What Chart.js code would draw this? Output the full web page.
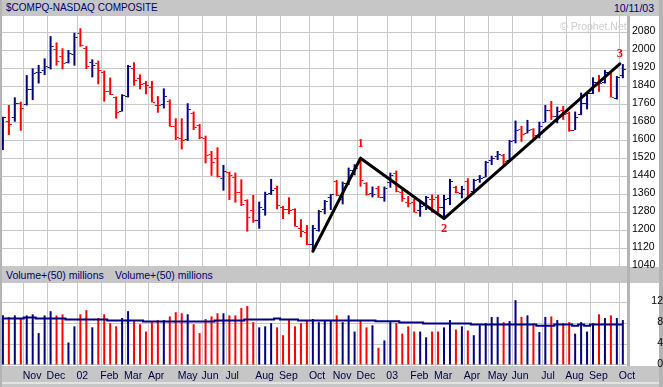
<!DOCTYPE html>
<html>
<head>
<meta charset="utf-8">
<script src="https://cdn.jsdelivr.net/npm/chart.js@4.4.0/dist/chart.umd.min.js"></script>
<style>
  html, body { margin: 0; padding: 0; background: #fff; }
  #wrap { position: relative; width: 663px; height: 387px; overflow: hidden; background: #fff;
          font-family: "Liberation Sans", Arial, sans-serif; }
  .band { position: absolute; background: #c6c6c6; }
  .txt { position: absolute; white-space: nowrap; color: #000070; font-size: 10.5px; line-height: 16px; }
  canvas { position: absolute; }
</style>
</head>
<body>
<div id="wrap">
  <div class="band" style="left:0;top:0;width:663px;height:16px"></div>
  <div class="band" style="left:0;top:267px;width:663px;height:16px"></div>
  <div class="band" style="left:0;top:366px;width:663px;height:16px"></div>
  <div class="band" style="left:0;top:382px;width:663px;height:2px;background:#e2e2e2"></div>
  <div class="band" style="left:0;top:384px;width:663px;height:3px"></div>
  <div class="band" style="left:0;top:0;width:2px;height:387px;background:#b4b4b4"></div>
  <div class="band" style="left:627px;top:16px;width:3px;height:350px;background:#b4b4b4"></div>
  <div class="band" style="left:659px;top:0;width:4px;height:387px;background:#b4b4b4"></div>

  <div class="txt" style="left:6px;top:0;font-size:10px">$COMPQ-NASDAQ COMPOSITE</div>
  <div class="txt" style="right:9px;top:0">10/11/03</div>
  <div class="txt" style="left:6px;top:267px">Volume+(50) millions</div>
  <div class="txt" style="left:115px;top:267px">Volume+(50) millions</div>

  <canvas id="price" width="661" height="256" style="left:2px;top:16px"></canvas>
  <canvas id="vol" width="661" height="101" style="left:2px;top:283px"></canvas>

  <div class="txt" style="left:560px;top:18px;color:#cdcdcd">© Prophet.Net</div>
</div>

<script>
// weekly bars, Oct 8 2001 .. Oct 6 2003
const opens = [1584,1686,1705,1768,1760,1827,1905,1913,1925,2004,1975,1948,1982,2075,2009,1948,1945,1905,1819,1791,
  1731,1799,1920,1879,1853,1839,1757,1762,1776,1665,1612,1605,1723,1668,1612,1538,1520,1432,1458,1439,
  1372,1335,1291,1247,1294,1365,1387,1303,1294,1294,1213,1192,1140,1202,1294,1347,1421,1338,1409,1469,
  1501,1409,1368,1390,1350,1417,1454,1372,1328,1328,1291,1313,1340,1350,1303,1343,1395,1365,1420,1375,
  1427,1439,1513,1531,1535,1513,1600,1650,1634,1650,1625,1683,1733,1708,1735,1720,1648,1716,1765,1810,
  1858,1860,1900,1790,1890];
const highs = [1705,1757,1791,1772,1890,1920,1935,1964,2063,2035,2009,2001,2078,2098,2019,1960,1954,1910,1879,1795,
  1805,1935,1947,1893,1864,1864,1797,1831,1782,1698,1698,1765,1728,1673,1621,1553,1569,1491,1461,1457,
  1427,1338,1358,1328,1372,1429,1399,1309,1347,1298,1250,1224,1224,1291,1335,1362,1424,1417,1479,1494,
  1521,1414,1395,1398,1395,1457,1466,1380,1353,1340,1335,1353,1360,1358,1358,1429,1398,1398,1432,1429,
  1446,1509,1532,1553,1540,1602,1688,1664,1691,1654,1683,1757,1775,1750,1753,1728,1728,1812,1815,1880,
  1890,1913,1905,1886,1939];
const lows = [1557,1624,1683,1643,1755,1779,1853,1890,1915,1932,1916,1942,1932,2016,1917,1880,1849,1772,1802,1697,
  1728,1791,1843,1827,1805,1769,1723,1742,1661,1602,1560,1598,1646,1606,1498,1443,1436,1377,1335,1324,
  1309,1195,1235,1208,1266,1358,1294,1251,1272,1217,1170,1135,1108,1195,1272,1291,1353,1316,1402,1445,
  1395,1355,1347,1345,1328,1390,1370,1328,1303,1280,1261,1291,1279,1279,1253,1313,1365,1343,1343,1372,
  1412,1436,1491,1513,1483,1510,1587,1594,1631,1602,1609,1680,1691,1676,1691,1639,1646,1712,1738,1806,
  1816,1853,1791,1782,1876];
const closes = [1703,1671,1768,1746,1828,1898,1903,1930,2021,1953,1945,1987,2059,2022,1930,1937,1911,1818,1805,1724,
  1802,1929,1868,1851,1845,1770,1756,1796,1663,1613,1600,1741,1661,1615,1535,1504,1440,1463,1448,1373,
  1319,1262,1247,1306,1362,1380,1315,1295,1291,1221,1199,1140,1210,1287,1331,1360,1359,1411,1468,1479,
  1422,1362,1363,1348,1387,1448,1376,1342,1321,1283,1310,1349,1338,1305,1340,1421,1370,1383,1358,1425,
  1434,1502,1520,1538,1510,1596,1646,1627,1645,1625,1663,1733,1708,1731,1715,1644,1702,1765,1810,1858,
  1855,1905,1792,1880,1915];
const volumes = [9.5,9.2,9.5,8.8,9.5,9.7,6.1,9.5,10.3,9.5,9.7,4.3,7.4,9.7,10.5,7.2,9.0,9.7,8.0,7.4,
  9.0,10.3,8.4,7.8,6.4,8.2,8.6,8.6,9.3,10.1,9.9,9.7,7.8,6.1,8.8,9.3,9.9,9.9,9.5,9.5,
  10.9,11.3,8.2,7.2,7.4,8.0,7.2,5.7,8.6,7.4,8.0,8.4,8.8,8.2,8.6,8.6,9.5,8.2,9.5,6.4,
  8.6,7.2,7.6,3.3,4.7,8.2,8.0,6.0,7.4,6.4,6.4,5.3,6.4,6.4,7.2,8.6,6.8,7.4,6.6,5.7,
  7.6,8.0,9.2,9.2,8.2,8.4,12.4,9.2,9.5,8.0,6.3,9.2,9.3,8.6,8.0,8.2,6.0,8.2,6.4,8.0,
  9.7,9.0,9.5,9.0,8.6];
// 50 week average of volume, as drawn
const volumeAvg = [8.89,8.89,8.89,8.89,9.08,9.08,8.89,8.89,8.89,8.89,8.89,8.70,8.70,8.70,8.70,8.70,8.70,8.70,8.50,8.50,
  8.50,8.50,8.50,8.50,8.31,8.31,8.31,8.31,8.31,8.31,8.31,8.31,8.31,8.31,8.31,8.31,8.50,8.50,8.50,8.50,
  8.50,8.70,8.70,8.70,8.70,8.70,8.89,8.70,8.70,8.70,8.53,8.53,8.53,8.53,8.53,8.53,8.53,8.53,8.53,8.53,
  8.53,8.53,8.53,8.37,8.37,8.37,8.37,8.12,8.12,8.12,8.12,7.92,7.92,7.92,7.92,7.92,7.92,7.92,7.92,7.73,
  7.73,7.73,7.73,7.73,7.73,7.73,7.73,7.73,7.73,7.73,7.53,7.53,7.53,7.76,7.76,7.76,7.53,7.76,7.53,7.76,
  7.76,7.76,7.76,7.76,7.76];

const monthStartBar = [4,8,13,17,21,25,30,34,38,43,47,52,56,60,65,69,73,78,82,86,91,95,99,104];
const monthLabels = ['Nov','Dec','02','Feb','Mar','Apr','May','Jun','Jul','Aug','Sep','Oct',
  'Nov','Dec','03','Feb','Mar','Apr','May','Jun','Jul','Aug','Sep','Oct'];
const priceTicks = [1040,1120,1200,1280,1360,1440,1520,1600,1680,1760,1840,1920,2000,2080];
const volumeTicks = [0,4,8,12];

// wave count drawn on the chart
const waveBars = [52, 60, 74, 103.5];
const waveValues = [1108, 1521, 1253, 1940];
const waveNames = ['', '1', '2', '3'];

const UP = '#000080', DOWN = '#ff0000', GRID = '#c8c8c8';
const FONT = '"Liberation Sans", Arial, sans-serif';
const barColors = closes.map((c, i) => (i === 0 || c >= closes[i - 1]) ? UP : DOWN);

const xAxis = extra => Object.assign({
  type: 'linear', min: -0.15, max: 104.7, offset: false,
  afterBuildTicks: ax => { ax.ticks = monthStartBar.map(b => ({ value: b - 0.5 })); },
  grid: { color: GRID, drawTicks: false, offset: false },
  border: { display: false }
}, extra);

const yAxis = (min, max, ticks, tickOpts) => ({
  position: 'right', min, max,
  afterBuildTicks: ax => { ax.ticks = ticks.map(v => ({ value: v })); },
  afterFit: ax => { ax.width = 36; ax.paddingTop = 0; ax.paddingBottom = 0; },
  ticks: Object.assign({
    font: { family: FONT, size: 10.5 }, color: '#000', labelOffset: -1,
    callback: v => String(v)
  }, tickOpts),
  grid: { color: GRID, drawTicks: false },
  border: { display: false }
});

const common = {
  animation: false, responsive: false, devicePixelRatio: 1, events: [],
  layout: { padding: 0 },
  plugins: { legend: { display: false }, tooltip: { enabled: false } }
};

// open / close ticks on the price bars
const ohlcTicks = {
  id: 'ohlcTicks',
  afterDatasetDraw(chart, args) {
    if (args.index !== 0) return;
    const { ctx, scales: { x, y } } = chart;
    ctx.save();
    opens.forEach((o, i) => {
      const px = x.getPixelForValue(i);
      ctx.fillStyle = barColors[i];
      ctx.fillRect(px - 3, Math.round(y.getPixelForValue(o)), 2, 1);
      ctx.fillRect(px + 1, Math.round(y.getPixelForValue(closes[i])), 2, 1);
    });
    ctx.restore();
  }
};

const waveLabels = {
  id: 'waveLabels',
  afterDatasetsDraw(chart) {
    const { ctx, scales: { x, y } } = chart;
    const gap = [0, 8, 4, 4];
    ctx.save();
    ctx.font = 'bold 12.5px "Liberation Serif", serif';
    ctx.fillStyle = '#ff0000';
    ctx.textAlign = 'center';
    waveNames.forEach((n, i) => {
      if (!n) return;
      const px = x.getPixelForValue(waveBars[i]);
      const py = y.getPixelForValue(waveValues[i]);
      const below = waveValues[i] < waveValues[i - 1];
      ctx.textBaseline = below ? 'top' : 'bottom';
      ctx.fillText(n, px, below ? py + gap[i] : py - gap[i]);
    });
    ctx.restore();
  }
};

new Chart(document.getElementById('price'), {
  type: 'bar',
  data: {
    datasets: [
      {
        type: 'bar', order: 1,
        data: highs.map((h, i) => ({ x: i, y: [lows[i], h] })),
        backgroundColor: barColors, barThickness: 2, inflateAmount: 0
      },
      {
        type: 'line', order: 0,
        data: waveBars.map((b, i) => ({ x: b, y: waveValues[i] })),
        borderColor: '#000', borderWidth: 3, pointRadius: 0, tension: 0,
        borderJoinStyle: 'round', borderCapStyle: 'round'
      }
    ]
  },
  options: Object.assign({}, common, {
    scales: {
      x: xAxis({
        ticks: { display: false },
        afterFit: ax => { ax.height = 5; ax.paddingLeft = 0; ax.paddingRight = 0; }
      }),
      y: yAxis(1037.8, 2152.4, priceTicks, { padding: 5, crossAlign: 'near' })
    }
  }),
  plugins: [ohlcTicks, waveLabels]
});

new Chart(document.getElementById('vol'), {
  type: 'bar',
  data: {
    datasets: [
      {
        type: 'bar', order: 1,
        data: volumes.map((v, i) => ({ x: i, y: v })),
        backgroundColor: barColors, barThickness: 2, inflateAmount: 0
      },
      {
        type: 'line', order: 0,
        data: volumeAvg.map((v, i) => ({ x: i, y: v })),
        borderColor: UP, borderWidth: 2, pointRadius: 0, stepped: 'middle'
      }
    ]
  },
  options: Object.assign({}, common, {
    scales: {
      x: xAxis({
        ticks: {
          autoSkip: false, maxRotation: 0, align: 'start', padding: 4, labelOffset: -1,
          font: { family: FONT, size: 10.5 }, color: '#000040',
          callback: (v, i) => monthLabels[i]
        },
        afterFit: ax => { ax.height = 18; ax.paddingLeft = 0; ax.paddingRight = 0; }
      }),
      y: yAxis(-0.2, 15.7, volumeTicks, { padding: 6, crossAlign: 'far' })
    }
  })
});
</script>
</body>
</html>
